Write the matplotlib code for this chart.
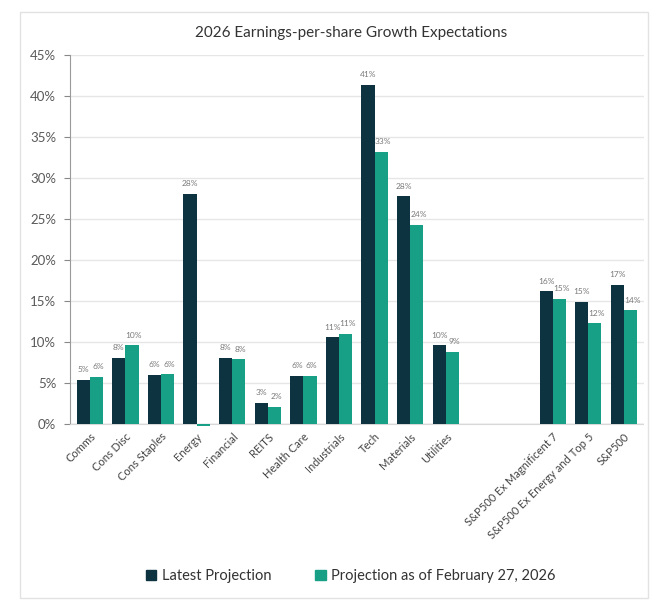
import matplotlib
matplotlib.use("Agg")
import matplotlib.pyplot as plt
from matplotlib.patches import Rectangle
import numpy as np

plt.rcParams['font.family'] = ['Lato', 'DejaVu Sans']

categories = ["Comms", "Cons Disc", "Cons Staples", "Energy", "Financial", "REITS",
              "Health Care", "Industrials", "Tech", "Materials", "Utilities",
              "", "",
              "S&P500 Ex Magnificent 7", "S&P500 Ex Energy and Top 5", "S&P500"]
latest = [5.4, 8.1, 6.0, 28.1, 8.1, 2.6, 5.9, 10.6, 41.4, 27.8, 9.6,
          None, None, 16.2, 14.9, 17.0]
previous = [5.8, 9.6, 6.1, -0.2, 7.9, 2.1, 5.9, 11.0, 33.2, 24.3, 8.8,
            None, None, 15.3, 12.3, 13.9]
series_names = ["Latest Projection", "Projection as of February 27, 2026"]
colors = ["#0d3340", "#17a086"]
yticks = [0, 5, 10, 15, 20, 25, 30, 35, 40, 45]

fig = plt.figure(figsize=(6.5, 6.0), dpi=100)
fig.patches.append(Rectangle((20 / 650, 0.003), 628 / 650, 1 - 12 / 600 - 0.003,
                             transform=fig.transFigure, fill=False,
                             edgecolor="#e2e2e2", linewidth=1.0))
ax = fig.add_axes([0.108, 0.293, 0.882, 0.615])

x = np.arange(len(categories))
w = 0.37
label_color = "#7a7a7a"
for i, (a, b) in enumerate(zip(latest, previous)):
    if a is None:
        continue
    ax.bar(x[i] - w / 2, a, width=w, color=colors[0], zorder=3, clip_on=False)
    ax.bar(x[i] + w / 2, b, width=w, color=colors[1], zorder=3, clip_on=False)
    ax.text(x[i] - w / 2, a + 0.8, f"{int(a + 0.5)}%", ha="center", va="bottom",
            fontsize=6, color=label_color)
    if b > 0:
        ax.text(x[i] + w / 2 + 0.05, b + 0.8, f"{int(b + 0.5)}%", ha="center",
                va="bottom", fontsize=6, color=label_color)

ax.set_xlim(-0.55, 15.55)
ax.set_ylim(0, 45)
ax.set_yticks(yticks)
ax.set_yticklabels([f"{t}%" for t in yticks], fontsize=9.5, color="#5a5a5a")
ax.tick_params(axis="y", length=4, color="#888888", pad=6)
ax.set_xticks([i for i, c in enumerate(categories) if c])
ax.set_xticklabels([c for c in categories if c], rotation=45, ha="right",
                   rotation_mode="anchor", fontsize=8, color="#444444")
ax.tick_params(axis="x", length=0, pad=5)
ax.grid(axis="y", color="#e6e6e6", linewidth=1.0, zorder=0)
for s in ["top", "right"]:
    ax.spines[s].set_visible(False)
ax.spines["left"].set_color("#9a9a9a")
ax.spines["bottom"].set_color("#d8d8d8")
ax.axhline(0, color="#d0d0d0", linewidth=1.0, zorder=2)

fig.text(0.54, 0.945, "2026 Earnings-per-share Growth Expectations", ha="center",
         va="center", fontsize=11, color="#333333")

handles = [Rectangle((0, 0), 1, 1, color=c) for c in colors]
fig.legend(handles, series_names, loc="center", bbox_to_anchor=(0.54, 0.04),
           ncol=2, frameon=False, fontsize=10.5, handlelength=0.7, handleheight=0.7,
           handletextpad=0.4, columnspacing=3.0, labelcolor="#333333")

fig.savefig("out.png", dpi=100)
